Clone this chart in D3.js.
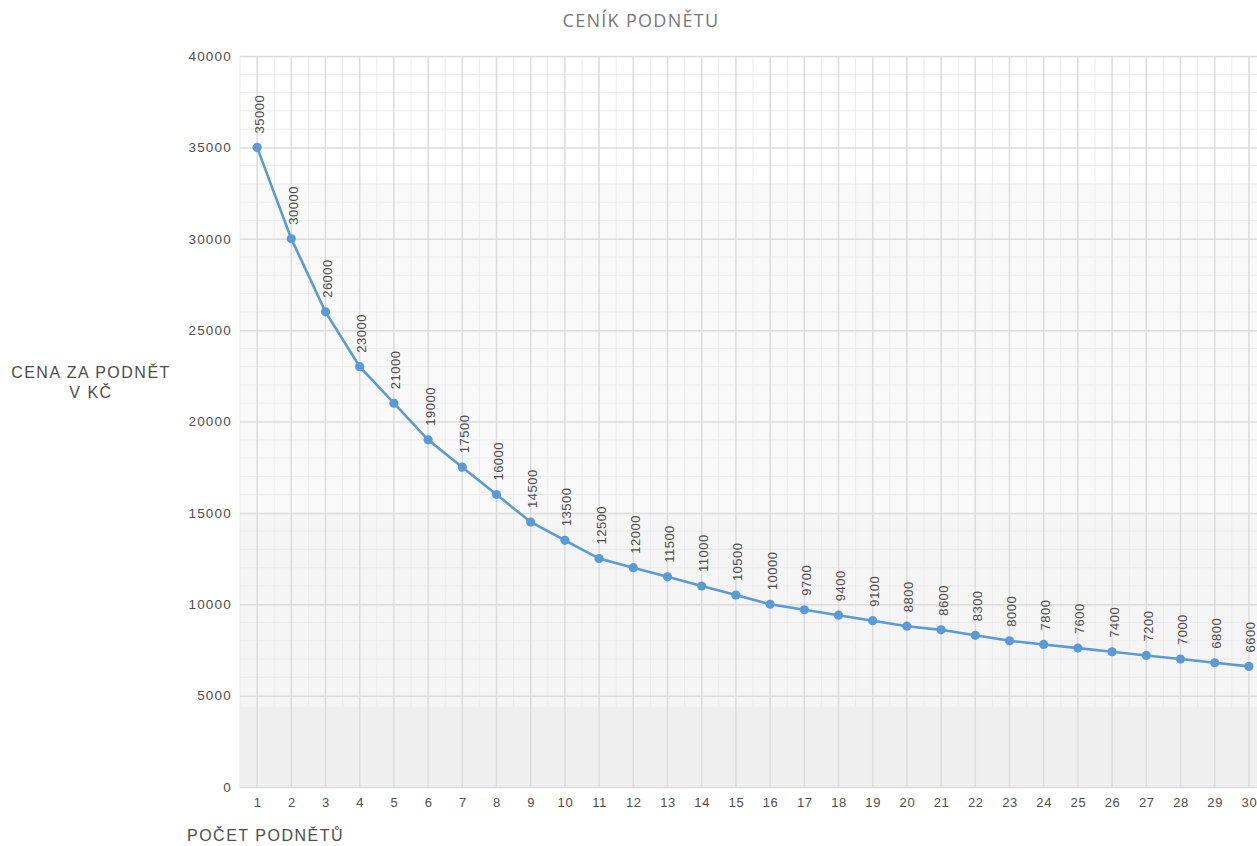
<!DOCTYPE html>
<html><head><meta charset="utf-8">
<script src="https://cdn.jsdelivr.net/npm/d3@7"></script>
<style>body{margin:0;background:#fff;overflow:hidden}svg{display:block}</style>
</head><body>
<svg id="c" width="1257" height="846"></svg>
<script>
const categories = d3.range(1, 31);
const prices = [35000,30000,26000,23000,21000,19000,17500,16000,14500,13500,12500,12000,11500,11000,10500,10000,9700,9400,9100,8800,8600,8300,8000,7800,7600,7400,7200,7000,6800,6600];
const yTicks = [0,5000,10000,15000,20000,25000,30000,35000,40000];
const title = "CENÍK PODNĚTU";
const yTitle = ["CENA ZA PODNĚT","V KČ"];
const xTitle = "POČET PODNĚTŮ";

(function(){
const svg = d3.select("#c");
const pTop = 56, pBottom = 787, pLeft = 240, pRight = 1266;
const FONT = "Arial, 'Liberation Sans', sans-serif";
const x = d3.scalePoint().domain(categories).range([pLeft, pRight]).padding(0.5);
const y = d3.scaleLinear().domain([0, 40000]).range([pBottom, pTop]);
const step = x.step();

// background bands
const bands = [[33000,40000,"#ffffff"],[15000,33000,"#f9f9f9"],[0,15000,"#f5f5f5"]];
svg.selectAll("rect.band").data(bands).join("rect")
  .attr("x", pLeft).attr("width", pRight-pLeft)
  .attr("y", d=>y(d[1])).attr("height", d=>y(d[0])-y(d[1]))
  .attr("fill", d=>d[2]);

// minor grid
const g = svg.append("g");
d3.range(0, 40001, 1000).filter(v=>v%5000).forEach(v=>{
  g.append("line").attr("x1",pLeft).attr("x2",pRight).attr("y1",y(v)).attr("y2",y(v)).attr("stroke","#ebebeb");
});
d3.range(0, categories.length+1).forEach(i=>{
  const xx = x(categories[0]) - step/2 + i*step;
  g.append("line").attr("x1",xx).attr("x2",xx).attr("y1",pTop).attr("y2",pBottom).attr("stroke","#ebebeb");
});
// bottom band covering minor grid
svg.append("rect").attr("x",pLeft).attr("width",pRight-pLeft).attr("y",y(4400)).attr("height",pBottom-y(4400)).attr("fill","#efefef");

// major grid
yTicks.forEach(v=>{
  svg.append("line").attr("x1",pLeft).attr("x2",pRight).attr("y1",y(v)+0.5).attr("y2",y(v)+0.5).attr("stroke","#dcdcdc").attr("stroke-width",1.5);
});
categories.forEach(c=>{
  svg.append("line").attr("x1",x(c)).attr("x2",x(c)).attr("y1",pTop).attr("y2",pBottom).attr("stroke","#dcdcdc").attr("stroke-width",1.5);
});

// axes
const yAxis = d3.axisLeft(y).tickValues(yTicks).tickSize(0).tickPadding(8).tickFormat(d=>d);
const ya = svg.append("g").attr("transform",`translate(${pLeft},0)`).call(yAxis);
ya.select(".domain").remove();
ya.selectAll("text").attr("font-family",FONT).attr("font-size",13.5).attr("letter-spacing",1.2).attr("fill","#4d4d4d");

const xAxis = d3.axisBottom(x).tickSize(0).tickPadding(11);
const xa = svg.append("g").attr("transform",`translate(0,${pBottom})`).call(xAxis);
xa.select(".domain").remove();
xa.selectAll("text").attr("font-family",FONT).attr("font-size",13).attr("letter-spacing",0.6).attr("fill","#4d4d4d");

// line
const line = d3.line().x((d,i)=>x(categories[i])).y(d=>y(d));
svg.append("path").datum(prices).attr("d",line).attr("fill","none").attr("stroke","#5b9bd5").attr("stroke-width",2.6);
svg.selectAll("circle.pt").data(prices).join("circle")
  .attr("cx",(d,i)=>x(categories[i])).attr("cy",d=>y(d)).attr("r",4.6).attr("fill","#5b9bd5");

// value labels
svg.selectAll("text.lbl").data(prices).join("text")
  .attr("transform",(d,i)=>`translate(${x(categories[i])+2},${y(d)-14}) rotate(-90)`)
  .attr("dominant-baseline","central")
  .attr("font-family",FONT).attr("font-size",13).attr("letter-spacing",0.5).attr("fill","#4d4d4d")
  .text(d=>d);

// titles
svg.append("text").attr("x",641).attr("y",27).attr("text-anchor","middle")
  .attr("font-family","'Open Sans', sans-serif").attr("font-size",18).attr("letter-spacing",1.3).attr("fill","#777").text(title);
svg.append("text").attr("font-family",FONT).attr("font-size",16).attr("letter-spacing",1.5).attr("fill","#4d4d4d")
  .attr("text-anchor","middle").selectAll("tspan").data(yTitle).join("tspan")
  .attr("x",91).attr("y",(d,i)=>378+i*20).text(d=>d);
svg.append("text").attr("x",187).attr("y",841).attr("font-family",FONT)
  .attr("font-size",16).attr("letter-spacing",1.5).attr("fill","#4d4d4d").text(xTitle);
})();
</script>
</body></html>
